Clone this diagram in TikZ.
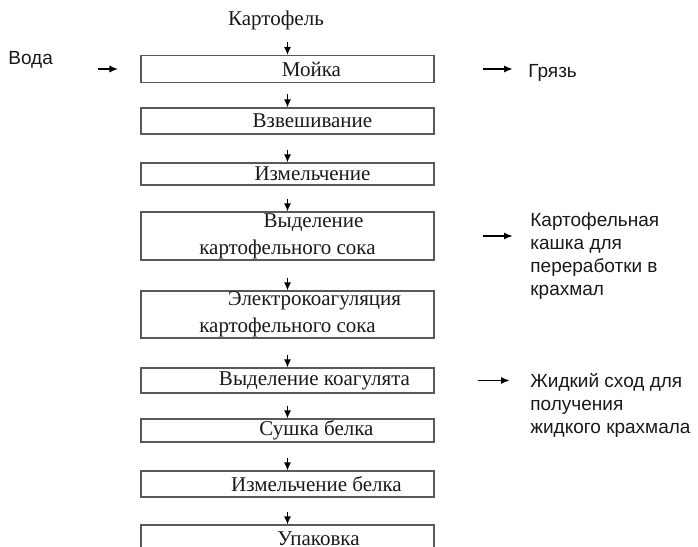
\documentclass[tikz,border=0pt]{standalone}
\usepackage{fontspec}
\setmainfont{Liberation Serif}
\newfontfamily\sidefont{Liberation Sans}
\usetikzlibrary{arrows.meta}

\newcommand{\ind}[1]{\hspace*{#1pt}}

\begin{document}
\begin{tikzpicture}[x=0.5pt,y=-0.5pt,
		stage/.style={draw=black!65, line width=0.6pt, minimum width=146.5pt, inner sep=0pt, align=center, font=\fontsize{10.5}{13.5}\selectfont, text=black!90},
		flow/.style={-{Latex[length=4pt,width=3.6pt]}, line width=0.7pt},
		side/.style={anchor=west, inner sep=0pt, align=left, font=\sidefont\fontsize{9.5}{11.5}\selectfont, text=black!90},
		sidearrow/.style={-{Latex[length=4.5pt,width=3.6pt]}, line width=0.9pt}]
			\useasboundingbox (0,0) rectangle (698,547);
			\clip (0,0) rectangle (698,547);

			\node[inner sep=0pt, font=\fontsize{10.5}{13}\selectfont, text=black!90] (kart) at (276,20) {Картофель};

			%% stages
			\node[stage, minimum height=13.5pt] (mojka) at (287.5,69) {\ind{24}Мойка};
			\node[stage, minimum height=13pt] (vzv) at (287.5,121) {\ind{25}Взвешивание};
			\node[stage, minimum height=11pt] (izm) at (287.5,174) {\ind{25}Измельчение};
			\node[stage, minimum height=24pt] (vydel) at (287.5,236) {\ind{26}Выделение\\картофельного сока};
			\node[stage, minimum height=23.5pt] (elektro) at (287.5,314.5) {\ind{27}Электрокоагуляция\\картофельного сока};
			\node[stage, minimum height=12.5pt] (koag) at (287.5,380.5) {\ind{27}Выделение коагулята};
			\node[stage, minimum height=11.5pt] (sush) at (287.5,430.5) {\ind{29}Сушка белка};
			\node[stage, minimum height=13pt] (izmb) at (287.5,484) {\ind{29}Измельчение белка};
			\node[stage, minimum height=13.5pt] (upak) at (287.5,538.5) {\ind{31}Упаковка};

			%% inputs and outputs
			\node[side] (voda) at (8,60) {Вода};
			\node[side] (grjaz) at (528,73) {Грязь};
			\node[side] (kashka) at (530,256) {Картофельная\\кашка для\\переработки в\\крахмал};
			\node[side] (zhidk) at (530,405) {Жидкий сход для\\получения\\жидкого крахмала};

			%% lines
			\draw[flow, shorten <=6pt] (kart.south -| mojka.north) -- (mojka.north);
			\foreach \a/\b/\s in {mojka/vzv/5.5, vzv/izm/7.5, izm/vydel/6.5, vydel/elektro/8.5,
				elektro/koag/8, koag/sush/6, sush/izmb/7.5, izmb/upak/7}
				\draw[flow, shorten <=\s pt] (\a.south) -- (\b.north);

			\draw[sidearrow, shorten <=22.5pt, shorten >=11pt] (voda.east |- mojka.west) -- (mojka.west);
			\draw[sidearrow, shorten <=24pt, shorten >=7.5pt] (mojka.east) -- (mojka.east -| grjaz.west);
			\draw[sidearrow, shorten <=24pt, shorten >=8.5pt] (vydel.east) -- (vydel.east -| kashka.west);
			\draw[sidearrow, shorten <=21.5pt, shorten >=10pt] (koag.east) -- (koag.east -| zhidk.west);
		\end{tikzpicture}
\end{document}
